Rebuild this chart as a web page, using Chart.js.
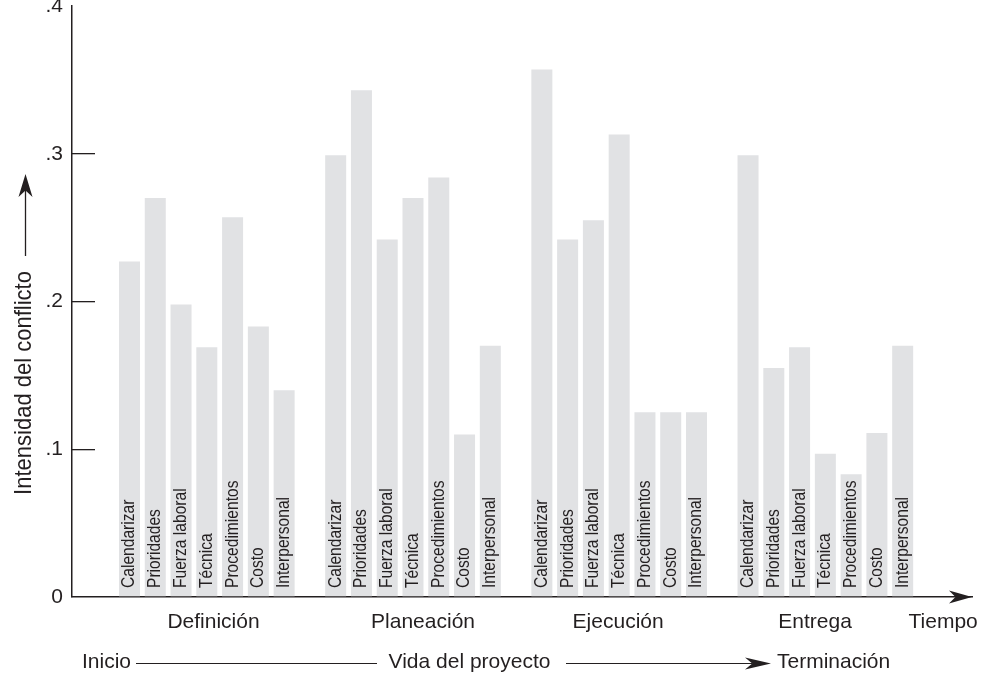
<!DOCTYPE html>
<html>
<head>
<meta charset="utf-8">
<script src="https://cdn.jsdelivr.net/npm/chart.js@4"></script>
<style>
  html, body { margin: 0; padding: 0; background: #fff; }
  canvas { display: block; }
</style>
</head>
<body>
<canvas id="chart" width="987" height="676"></canvas>
<script>
// tipos de conflicto (cada barra) y fases del proyecto (cada grupo)
const conflictos = ["Calendarizar", "Prioridades", "Fuerza laboral", "Técnica", "Procedimientos", "Costo", "Interpersonal"];
const fases = ["Definición", "Planeación", "Ejecución", "Entrega"];

// intensidad del conflicto por fase, en el orden de "conflictos"
const definicion = [0.227, 0.270, 0.198, 0.169, 0.257, 0.183, 0.140];
const planeacion = [0.299, 0.343, 0.242, 0.270, 0.284, 0.110, 0.170];
const ejecucion  = [0.357, 0.242, 0.255, 0.313, 0.125, 0.125, 0.125];
const entrega    = [0.299, 0.155, 0.169, 0.097, 0.083, 0.111, 0.170];

const yTicks = [0, 0.1, 0.2, 0.3, 0.4];

const INK = "#231f20";
const FONT = "'Liberation Sans', Arial, Helvetica, sans-serif";

// each phase takes 8 slots on the x axis: 7 bars + one empty slot
const series = [definicion, planeacion, ejecucion, entrega];
const points = [];
series.forEach((vals, g) => {
  vals.forEach((v, j) => points.push({ x: g * 8 + j, y: v, nombre: conflictos[j] }));
});

// where the phase names sit along the axis (slot units), plus "Tiempo"
const labelSlots = [3.26, 11.39, 18.96, 26.6, 31.57];
const xLabels = [...fases, "Tiempo"];

function stealthArrow(ctx, tx, ty, dx, dy, len, half) {
  const px = -dy, py = dx;
  const bx = tx - dx * len, by = ty - dy * len;
  const nx = tx - dx * len * 0.72, ny = ty - dy * len * 0.72;
  ctx.beginPath();
  ctx.moveTo(tx, ty);
  ctx.lineTo(bx + px * half, by + py * half);
  ctx.lineTo(nx, ny);
  ctx.lineTo(bx - px * half, by - py * half);
  ctx.closePath();
  ctx.fill();
}

const decor = {
  id: "decor",
  afterDatasetsDraw(chart) {
    const ctx = chart.ctx;
    const base = chart.scales.y.getPixelForValue(0);

    // names written up inside the bars
    ctx.save();
    ctx.fillStyle = INK;
    ctx.font = "15.6px " + FONT;
    ctx.textAlign = "left";
    ctx.textBaseline = "middle";
    chart.getDatasetMeta(0).data.forEach((bar, i) => {
      ctx.save();
      ctx.translate(bar.x, base - 9);
      ctx.rotate(-Math.PI / 2);
      ctx.scale(1, 1.15);
      ctx.fillText(points[i].nombre, 0, 0);
      ctx.restore();
    });
    ctx.restore();
  },
  afterDraw(chart) {
    const ctx = chart.ctx;
    const area = chart.chartArea;
    ctx.save();
    ctx.strokeStyle = INK;
    ctx.fillStyle = INK;

    // arrowhead on the time axis
    stealthArrow(ctx, area.right, area.bottom, 1, 0, 23, 6.5);

    // y title with arrow
    ctx.font = "22px " + FONT;
    ctx.textAlign = "center";
    ctx.textBaseline = "middle";
    ctx.save();
    ctx.translate(24, 383);
    ctx.rotate(-Math.PI / 2);
    ctx.scale(1, 1.12);
    ctx.fillText("Intensidad del conflicto", 0, 0);
    ctx.restore();
    ctx.lineWidth = 1.3;
    ctx.beginPath();
    ctx.moveTo(25.5, 256);
    ctx.lineTo(25.5, 190);
    ctx.stroke();
    stealthArrow(ctx, 25.5, 174, 0, -1, 23, 7);

    // project life line along the bottom
    ctx.font = "21px " + FONT;
    ctx.textAlign = "left";
    ctx.fillText("Inicio", 82, 662);
    ctx.textAlign = "center";
    ctx.fillText("Vida del proyecto", 469.5, 662);
    ctx.textAlign = "left";
    ctx.fillText("Terminación", 777, 662);
    ctx.lineWidth = 1.2;
    ctx.beginPath();
    ctx.moveTo(136, 663.5);
    ctx.lineTo(377, 663.5);
    ctx.moveTo(566, 663.5);
    ctx.lineTo(752, 663.5);
    ctx.stroke();
    stealthArrow(ctx, 771, 663.5, 1, 0, 26, 6);
    ctx.restore();
  }
};

new Chart(document.getElementById("chart"), {
  type: "bar",
  data: {
    datasets: [{
      data: points,
      backgroundColor: "#e1e2e4",
      borderWidth: 0,
      barPercentage: 0.815,
      categoryPercentage: 1
    }]
  },
  options: {
    responsive: false,
    animation: false,
    layout: { padding: { top: 6, right: 15, left: 0, bottom: 0 } },
    plugins: { legend: { display: false }, tooltip: { enabled: false } },
    scales: {
      x: {
        type: "linear",
        offset: false,
        min: -2.231,
        max: 32.69,
        grid: { display: false },
        border: { display: true, color: INK, width: 1.5 },
        afterBuildTicks: s => { s.ticks = labelSlots.map(v => ({ value: v })); },
        afterFit: s => {
          s.height = 79;
          s.paddingLeft = 0;
          s.paddingRight = 0;
        },
        ticks: {
          autoSkip: false,
          maxRotation: 0,
          padding: 5,
          color: INK,
          font: { family: FONT, size: 21 },
          callback: (v, i) => xLabels[i]
        }
      },
      y: {
        min: 0,
        max: 0.4,
        // short tick marks pointing into the plot, none at 0 and .4
        grid: {
          display: true,
          drawOnChartArea: false,
          drawTicks: true,
          tickLength: -23,
          lineWidth: 1.3,
          color: c => (c.tick && (c.tick.value === 0 || c.tick.value === 0.4)) ? "rgba(0,0,0,0)" : INK
        },
        border: { display: true, color: INK, width: 1.5 },
        afterBuildTicks: s => { s.ticks = yTicks.map(v => ({ value: v })); },
        afterFit: s => {
          s.width = 72;
          s.paddingTop = 0;
          s.paddingBottom = 0;
        },
        ticks: {
          padding: 32,
          color: INK,
          font: { family: FONT, size: 21 },
          callback: v => v === 0 ? "0" : "." + Math.round(v * 10)
        }
      }
    }
  },
  plugins: [decor]
});
</script>
</body>
</html>
